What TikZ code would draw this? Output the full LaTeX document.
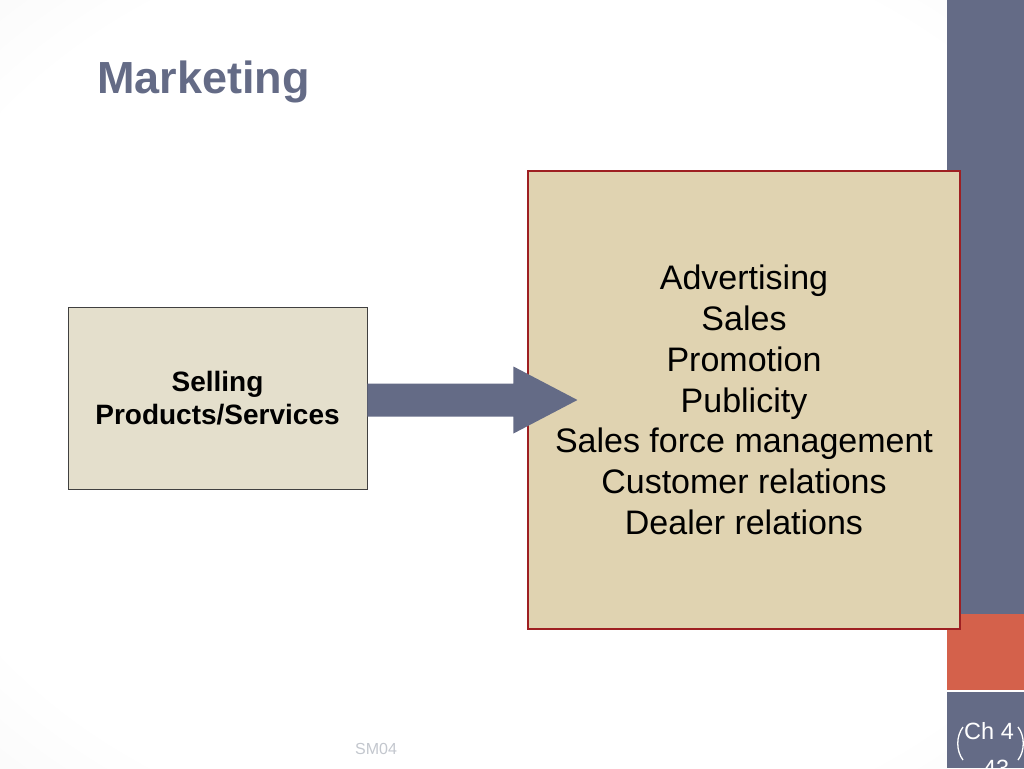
\documentclass[tikz,border=0pt]{standalone}
\usepackage{fontspec}
\setmainfont{Liberation Sans}
\usetikzlibrary{calc}
\definecolor{slate}{HTML}{646B86}
\definecolor{accent}{HTML}{D4614B}
\definecolor{sellfill}{HTML}{E4DFCC}
\definecolor{listfill}{HTML}{E0D3B1}
\definecolor{listborder}{HTML}{9E1F22}
\definecolor{smgray}{HTML}{C3C7CE}
\pgfdeclareradialshading{bgshade}{\pgfpoint{0bp}{0bp}}{color(0bp)=(white); color(30bp)=(white); color(72bp)=(black!13)}
\tikzset{
  sellbox/.style={draw=black!75, line width=0.9pt, fill=sellfill, align=center, inner sep=0pt,
    font=\bfseries\fontsize{28}{33}\selectfont, minimum width=299pt, minimum height=182pt},
  listbox/.style={draw=listborder, line width=1.1pt, fill=listfill, align=center, inner sep=0pt,
    font=\fontsize{34}{40.8}\selectfont, minimum width=432pt, minimum height=458pt},
  blockarrow/.style={fill=slate},
  titletext/.style={anchor=base west, inner sep=0pt, text=slate, font=\bfseries\fontsize{45}{50}\selectfont},
  pagetext/.style={anchor=base west, inner sep=0pt, text=white, font=\fontsize{23.5}{26}\selectfont}
}
\begin{document}
\begin{tikzpicture}[x=1pt,y=-1pt]
\useasboundingbox (0,0) rectangle (1024,768);
\shade[shading=bgshade] (0,0) rectangle (1024,768);
% sidebar
\fill[slate] (947,0) rectangle (1024,614);
\fill[accent] (947,614) rectangle (1024,690);
\fill[slate] (947,691.5) rectangle (1024,768);
% title
\node[titletext] (title) at (97,93) {Marketing};
% boxes
\node[sellbox] (sell) at (217.5,398) {Selling\\Products/Services};
\node[listbox] (list) at (744,400) {Advertising\\Sales\\Promotion\\Publicity\\Sales force management\\Customer relations\\Dealer relations};
% block arrow
\coordinate (a) at (sell.east |- list.west);
\coordinate (t) at ($(list.west)+(50,0)$);
\fill[blockarrow] ($(a)+(0,-16.5)$) -- ($(a)+(146,-16.5)$) -- ($(a)+(146,-33.5)$) -- (t)
  -- ($(a)+(146,33.5)$) -- ($(a)+(146,16.5)$) -- ($(a)+(0,16.5)$) -- cycle;
% footer
\node[anchor=base west, inner sep=0pt, text=smgray, font=\fontsize{16}{18}\selectfont] (sm) at (355,754) {SM04};
\node[pagetext] (ch) at (964,739) {Ch 4};
\node[pagetext] (num) at (975,776) {-43};
\draw[white, line width=1.3pt] (963,727) .. controls (956,736) and (956,751) .. (963,760);
\draw[white, line width=1.3pt] (1018,727) .. controls (1025,736) and (1025,751) .. (1018,760);
\end{tikzpicture}
\end{document}
